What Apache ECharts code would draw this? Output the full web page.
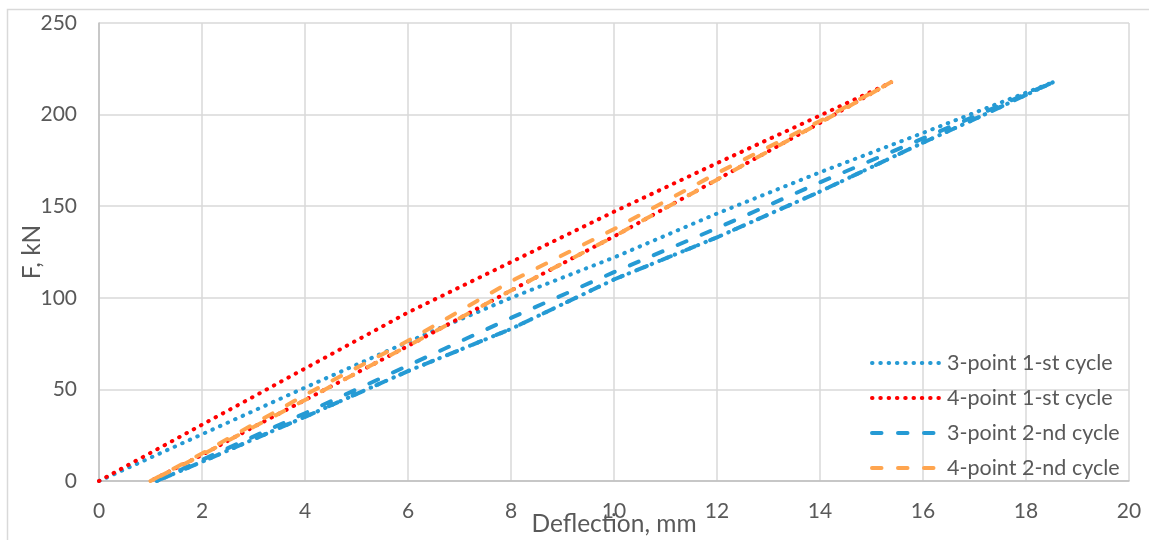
<!DOCTYPE html>
<html>
<head>
<meta charset="utf-8">
<script src="https://cdn.jsdelivr.net/npm/echarts@6.0.0/dist/echarts.min.js"></script>
<style>
  html, body { margin: 0; padding: 0; background: #ffffff; }
  #chart { width: 1149px; height: 540px; }
</style>
</head>
<body>
<div id="chart"></div>
<script>
// ---- Data (deflection in mm, force in kN) ----
const seriesNames = ['3-point 1-st cycle', '4-point 1-st cycle', '3-point 2-nd cycle', '4-point 2-nd cycle'];

// 3-point: 1st cycle loading branch
const x3pLoad1 = [0, 2, 4, 6, 8, 10, 12, 14, 16, 17, 18.55];
const f3pLoad1 = [0, 25.5, 51, 76, 100, 122, 146, 168.5, 190, 201, 218];
// 3-point: unloading branch (shared by both cycles)
const x3pUnload = [18.55, 17, 16, 14, 12, 10, 8, 6, 4, 2, 1.12];
const f3pUnload = [218, 197.5, 184.7, 158, 133, 110, 83, 60, 35, 10.5, 0];
// 3-point: 2nd cycle loading branch
const x3pLoad2 = [1.12, 2, 4, 6, 8, 10, 12, 14, 16, 17, 18.55];
const f3pLoad2 = [0, 11.5, 37, 63, 89, 114, 138, 163, 187, 199, 218];

// 4-point: 1st cycle loading branch
const x4pLoad1 = [0, 2, 4, 6, 8, 10, 12, 14, 15.3];
const f4pLoad1 = [0, 30.7, 61.4, 92, 119.5, 147, 173.5, 199.5, 216.5];
// 4-point: unloading branch (shared by both cycles)
const x4pUnload = [15.4, 14, 12, 10, 8, 6, 4, 3, 2, 1.0];
const f4pUnload = [218, 195.5, 164.5, 133.5, 104, 73.7, 44.2, 29.5, 14.2, 0];
// 4-point: 2nd cycle loading branch
const x4pLoad2 = [1.0, 2, 3, 4, 6, 8, 10, 12, 14, 15.4];
const f4pLoad2 = [0, 15, 31, 47, 76.5, 109, 137.5, 168, 196.5, 218];

// ---- Helpers ----
function zip(xs, ys) { return xs.map((x, i) => [x, ys[i]]); }

const BLUE = '#259ad4';
const RED = '#ff0000';
const ORANGE = '#ffa54f';
const TEXT = '#595959';
const FONT = 'Lato';

const DOT = { width: 4, type: [0.5, 7.8], cap: 'round' };
const DASH = { width: 4, type: [9.5, 16.5], cap: 'round' };

function mkSeries(name, data, color, style) {
  return {
    name: name,
    type: 'line',
    data: data,
    symbol: 'none',
    showSymbol: false,
    smooth: false,
    silent: true,
    animation: false,
    lineStyle: Object.assign({ color: color }, style),
    itemStyle: { color: color }
  };
}

const chart = echarts.init(document.getElementById('chart'), null, { renderer: 'canvas' });

const option = {
  backgroundColor: '#ffffff',
  animation: false,
  textStyle: { fontFamily: FONT },
  graphic: [{
    type: 'rect',
    shape: { x: 7.5, y: 9.5, width: 1300, height: 700 },
    style: { fill: 'none', stroke: '#d9d9d9', lineWidth: 1.5 },
    silent: true,
    z: -10
  }],
  grid: {
    left: 99, right: 20, top: 23, bottom: 59,
    containLabel: false,
    outerBoundsMode: 'none'
  },
  legend: {
    data: seriesNames,
    orient: 'vertical',
    left: 865,
    top: 346,
    itemWidth: 70,
    itemHeight: 14,
    itemGap: 11,
    selectedMode: false,
    itemStyle: { opacity: 0 },
    lineStyle: { width: 4, cap: 'round' },
    textStyle: { fontFamily: FONT, fontSize: 21.5, color: TEXT, lineHeight: 24 }
  },
  xAxis: {
    type: 'value',
    min: 0, max: 20, interval: 2,
    name: 'Deflection, mm',
    nameLocation: 'middle',
    nameGap: 31,
    nameMoveOverlap: false,
    nameTextStyle: { fontFamily: FONT, fontSize: 24.5, color: TEXT },
    axisLine: { show: true, onZero: false, lineStyle: { color: '#bfbfbf', width: 1.5 } },
    axisTick: { show: false },
    axisLabel: { margin: 20, fontFamily: FONT, fontSize: 21, color: TEXT },
    splitLine: { show: true, lineStyle: { color: '#d9d9d9', width: 1.5 } }
  },
  yAxis: {
    type: 'value',
    min: 0, max: 250, interval: 50,
    name: 'F, kN',
    nameLocation: 'middle',
    nameGap: 54,
    nameMoveOverlap: false,
    nameTextStyle: { fontFamily: FONT, fontSize: 24.5, color: TEXT },
    axisLine: { show: true, lineStyle: { color: '#bfbfbf', width: 1.5 } },
    axisTick: { show: false },
    axisLabel: { margin: 22, fontFamily: FONT, fontSize: 21, color: TEXT },
    splitLine: { show: true, lineStyle: { color: '#d9d9d9', width: 1.5 } }
  },
  series: [
    mkSeries(seriesNames[0], zip(x3pLoad1, f3pLoad1).concat(zip(x3pUnload, f3pUnload)), BLUE, DOT),
    mkSeries(seriesNames[1], zip(x4pLoad1, f4pLoad1).concat(zip(x4pUnload, f4pUnload)), RED, DOT),
    mkSeries(seriesNames[2], zip(x3pLoad2, f3pLoad2).concat(zip(x3pUnload, f3pUnload)), BLUE, DASH),
    mkSeries(seriesNames[3], zip(x4pLoad2, f4pLoad2).concat(zip(x4pUnload, f4pUnload)), ORANGE, DASH)
  ]
};

chart.setOption(option);
</script>
</body>
</html>
